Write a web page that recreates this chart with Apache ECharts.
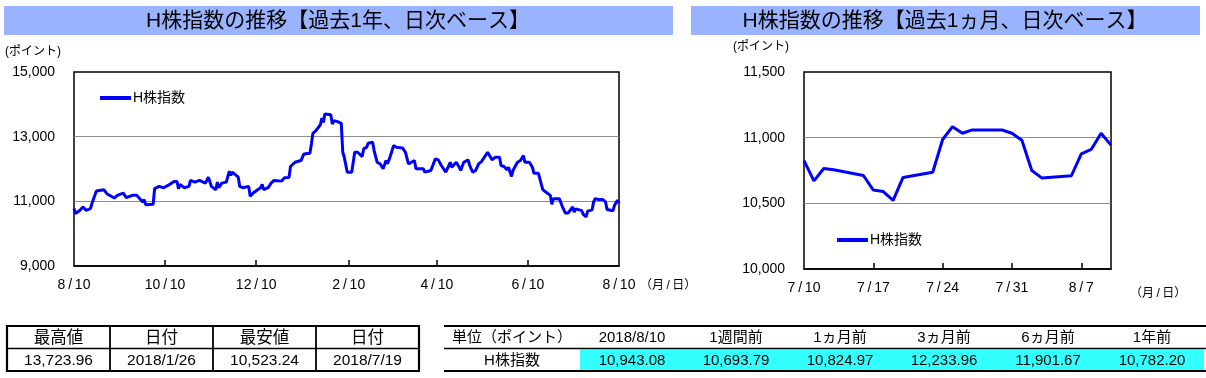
<!DOCTYPE html>
<html>
<head>
<meta charset="utf-8">
<script src="https://cdn.jsdelivr.net/npm/echarts@6/dist/echarts.min.js"></script>
<style>
html, body { margin: 0; padding: 0; background: #fff; }
#chart { width: 1206px; height: 378px; }
</style>
</head>
<body>
<div id="chart"></div>
<script>
// 過去1年（日次）: 7/7 まで。7/10 以降は過去1ヵ月のデータを使う
const yearDates = [
    '2017-08-10', '2017-08-11', '2017-08-14', '2017-08-16', '2017-08-18', '2017-08-21', '2017-08-22', '2017-08-23', '2017-08-25', '2017-08-30',
    '2017-09-01', '2017-09-06', '2017-09-08', '2017-09-12', '2017-09-14', '2017-09-18', '2017-09-19', '2017-09-21', '2017-09-25', '2017-09-26', '2017-09-27',
    '2017-10-02', '2017-10-03', '2017-10-06', '2017-10-09', '2017-10-12', '2017-10-16', '2017-10-18', '2017-10-19', '2017-10-20', '2017-10-23', '2017-10-26', '2017-10-27', '2017-10-30',
    '2017-11-02', '2017-11-06', '2017-11-08', '2017-11-10', '2017-11-13', '2017-11-14', '2017-11-15', '2017-11-17', '2017-11-20', '2017-11-22', '2017-11-23', '2017-11-24', '2017-11-28', '2017-11-29',
    '2017-12-01', '2017-12-05', '2017-12-06', '2017-12-08', '2017-12-11', '2017-12-13', '2017-12-14', '2017-12-15', '2017-12-18', '2017-12-20', '2017-12-22', '2017-12-27', '2017-12-29',
    '2018-01-01', '2018-01-02', '2018-01-05', '2018-01-09', '2018-01-11', '2018-01-12', '2018-01-15', '2018-01-16', '2018-01-17', '2018-01-19', '2018-01-22', '2018-01-23', '2018-01-24', '2018-01-25', '2018-01-26', '2018-01-29', '2018-01-30', '2018-01-31',
    '2018-02-02', '2018-02-05', '2018-02-06', '2018-02-07', '2018-02-09', '2018-02-12', '2018-02-14', '2018-02-16', '2018-02-19', '2018-02-20', '2018-02-22', '2018-02-23', '2018-02-26', '2018-02-27',
    '2018-03-01', '2018-03-03', '2018-03-05', '2018-03-07', '2018-03-08', '2018-03-10', '2018-03-12', '2018-03-14', '2018-03-18', '2018-03-20', '2018-03-22', '2018-03-24', '2018-03-26', '2018-03-27',
    '2018-04-01', '2018-04-02', '2018-04-03', '2018-04-06', '2018-04-07', '2018-04-09', '2018-04-11', '2018-04-13', '2018-04-16', '2018-04-19', '2018-04-20', '2018-04-21', '2018-04-23', '2018-04-25', '2018-04-26', '2018-04-28',
    '2018-05-01', '2018-05-02', '2018-05-04', '2018-05-06', '2018-05-08', '2018-05-10', '2018-05-14', '2018-05-17', '2018-05-19', '2018-05-22', '2018-05-23', '2018-05-25', '2018-05-27', '2018-05-28', '2018-05-30', '2018-05-31',
    '2018-06-03', '2018-06-05', '2018-06-07', '2018-06-08', '2018-06-11', '2018-06-13', '2018-06-14', '2018-06-17', '2018-06-19', '2018-06-20', '2018-06-22', '2018-06-25', '2018-06-26', '2018-06-27',
    '2018-07-01', '2018-07-03', '2018-07-05', '2018-07-07',
];
const yearValues = [
    10782, 10622, 10723, 10825, 10723, 10775, 10929, 11062, 11317, 11360,
    11237, 11102, 11185, 11256, 11114, 11185, 11154, 11185, 10979, 11052, 10898,
    10908, 11391, 11462, 11421, 11492, 11615, 11615, 11391, 11523, 11421, 11462, 11646, 11594,
    11646, 11564, 11748, 11462, 11360, 11594, 11421, 11564, 11594, 11933, 11800, 11902, 11748, 11462,
    11421, 11462, 11154, 11256, 11360, 11421, 11523, 11360, 11421, 11564, 11646, 11625, 11729,
    11735, 12077, 12209, 12262, 12467, 12480, 12487, 12775, 13102, 13185, 13369, 13575, 13440, 13700, 13723.96, 13677, 13390, 13492,
    13472, 13410, 12517, 12363, 11901.67, 11902, 12517, 12517, 12385, 12621, 12672, 12795, 12826, 12570,
    12209, 12160, 12006, 12262, 12160, 12416, 12723, 12672, 12652, 12517, 12160, 12209, 12262, 12006,
    12006, 11902, 11851, 11954, 11954, 12314, 12283, 12108, 11902, 12209, 12055, 12006, 12209, 12055, 11954, 12209,
    12283, 12108, 11902, 11954, 12160, 12233.96, 12517, 12283, 12363, 12363, 12108, 12077, 11975, 12055, 11769, 11954,
    12209, 12262, 12416, 12209, 12209, 12055, 11871, 11871, 11523, 11360, 11287, 11185, 10908, 11083,
    11083, 10846, 10640, 10640,
];

// 過去1ヵ月（日次）
const monthDates = [
    '2018-07-10', '2018-07-11', '2018-07-12', '2018-07-13', '2018-07-16', '2018-07-17', '2018-07-18', '2018-07-19', '2018-07-20',
    '2018-07-23', '2018-07-24', '2018-07-25', '2018-07-26', '2018-07-27', '2018-07-30', '2018-07-31', '2018-08-01', '2018-08-02',
    '2018-08-03', '2018-08-06', '2018-08-07', '2018-08-08', '2018-08-09', '2018-08-10',
];
const monthValues = [
    10824.97, 10671, 10765, 10755, 10712, 10601, 10590, 10523.24, 10697,
    10737, 10986, 11084, 11034, 11059, 11058, 11034, 10981, 10750,
    10693.79, 10710, 10877, 10910, 11034, 10943.08,
];

// 軸
const yearStart = '2017-08-10';
const yearEnd = '2018-08-10';
const yearLabelDates = ['2017-08-10', '2017-10-10', '2017-12-10', '2018-02-10', '2018-04-10', '2018-06-10', '2018-08-10'];
const yearAxis = { min: 9000, max: 15000, interval: 2000 };
const monthStart = '2018-07-10';
const monthEnd = '2018-08-10';
const monthLabelDates = ['2018-07-10', '2018-07-17', '2018-07-24', '2018-07-31', '2018-08-07'];
const monthAxis = { min: 10000, max: 11500, interval: 500 };

// 表
const highLowHeaders = ['最高値', '日付', '最安値', '日付'];
const highLowValues = ['13,723.96', '2018/1/26', '10,523.24', '2018/7/19'];
const compareHeaders = ['単位（ポイント）', '2018/8/10', '1週間前', '1ヵ月前', '3ヵ月前', '6ヵ月前', '1年前'];
const compareName = 'H株指数';
const compareValues = [10943.08, 10693.79, 10824.97, 12233.96, 11901.67, 10782.20];

const FONT = "'Liberation Sans', 'Noto Sans CJK JP', sans-serif";
const BLUE = '#0000ff';
const THIN = '\u2009';

const toUTC = (s) => {
    const [y, m, d] = s.split('-').map(Number);
    return Date.UTC(y, m - 1, d);
};
const dayIndex = (s, base) => Math.round((toUTC(s) - toUTC(base)) / 86400000);
const mdLabel = (s) => {
    const p = s.split('-');
    return Number(p[1]) + THIN + '/' + THIN + Number(p[2]);
};
const comma = (v) => v.toLocaleString('en-US');
const comma2 = (v) => v.toLocaleString('en-US', { minimumFractionDigits: 2, maximumFractionDigits: 2 });

// 日付 -> 基準日からの日数
const yearPoints = yearDates.concat(monthDates).map((d, i) => [dayIndex(d, yearStart), yearValues.concat(monthValues)[i]]);
const monthPoints = monthDates.map((d, i) => [dayIndex(d, monthStart), monthValues[i]]);

const makeXAxis = (gridIndex, start, end, labelDates) => {
    const labelMap = {};
    labelDates.forEach((d) => { labelMap[dayIndex(d, start)] = mdLabel(d); });
    const maxDay = dayIndex(end, start);
    const labelValues = labelDates.map((d) => dayIndex(d, start));
    return {
        gridIndex,
        type: 'value',
        min: 0,
        max: maxDay,
        axisLine: { show: true, lineStyle: { color: '#000', width: 1.5 } },
        axisTick: {
            show: true,
            inside: true,
            length: 6,
            customValues: labelValues.filter((v) => v > 0 && v < maxDay),
            lineStyle: { color: '#000', width: 1.5 },
        },
        axisLabel: {
            customValues: labelValues,
            formatter: (v) => labelMap[Math.round(v)] || '',
            margin: 12,
            color: '#000',
            fontSize: 14,
            fontFamily: FONT,
        },
        splitLine: { show: false },
    };
};

const makeYAxis = (gridIndex, ax) => ({
    gridIndex,
    type: 'value',
    min: ax.min,
    max: ax.max,
    interval: ax.interval,
    axisLine: { show: false },
    axisTick: { show: false },
    axisLabel: {
        formatter: (v) => comma(v),
        margin: 19,
        color: '#000',
        fontSize: 14,
        fontFamily: FONT,
    },
    splitLine: {
        show: true,
        showMinLine: false,
        showMaxLine: false,
        lineStyle: { color: '#8c8c8c', width: 1.2 },
    },
});

const text = (str, x, y, size, align) => ({
    type: 'text',
    x,
    y,
    style: {
        text: str,
        fill: '#000',
        fontSize: size,
        fontFamily: FONT,
        textAlign: align || 'center',
        textVerticalAlign: 'middle',
    },
});
const line = (x1, y1, x2, y2, w) => ({
    type: 'line',
    shape: { x1, y1, x2, y2 },
    style: { stroke: '#000', lineWidth: w },
});

const graphics = [];
// タイトル帯
graphics.push({ type: 'rect', shape: { x: 4, y: 6, width: 669, height: 29 }, style: { fill: '#99b3ff' } });
graphics.push({ type: 'rect', shape: { x: 691, y: 6, width: 509, height: 29 }, style: { fill: '#99b3ff' } });
graphics.push(text('H株指数の推移【過去1年、日次ベース】', 338, 21, 21));
graphics.push(text('H株指数の推移【過去1ヵ月、日次ベース】', 945, 21, 21));
graphics.push(text('(ポイント)', 5, 52, 12, 'left'));
graphics.push(text('(ポイント)', 733, 47, 12, 'left'));
graphics.push(text('（月' + THIN + '/' + THIN + '日）', 640, 286, 12, 'left'));
graphics.push(text('（月' + THIN + '/' + THIN + '日）', 1130, 294, 12, 'left'));

// 最高値・最安値の表
const hlX = [7, 110, 213, 316, 419];
const tTop = 326, tMid = 348.5, tBot = 371;
graphics.push({ type: 'rect', shape: { x: hlX[0], y: tTop, width: hlX[4] - hlX[0], height: tBot - tTop }, style: { fill: 'none', stroke: '#000', lineWidth: 2.2 } });
graphics.push(line(hlX[0], tMid, hlX[4], tMid, 1.5));
for (let i = 1; i < 4; i++) graphics.push(line(hlX[i], tTop, hlX[i], tBot, 1.8));
highLowHeaders.forEach((h, i) => {
    const cx = (hlX[i] + hlX[i + 1]) / 2;
    graphics.push(text(h, cx, (tTop + tMid) / 2 + 1, 16.5));
    graphics.push(text(highLowValues[i], cx, (tMid + tBot) / 2 + 1, 15.5));
});

// 比較表
const cmpX = [444, 580, 684, 788, 892, 996, 1100, 1204];
graphics.push({ type: 'rect', shape: { x: cmpX[1], y: tMid + 1, width: cmpX[7] - cmpX[1], height: tBot - tMid - 2 }, style: { fill: '#33ffff' } });
graphics.push(line(cmpX[0], tTop, 1206, tTop, 2.2));
graphics.push(line(cmpX[0], tMid, 1206, tMid, 1.5));
graphics.push(line(cmpX[0], tBot, 1206, tBot, 2.2));
compareHeaders.forEach((h, i) => {
    const cx = (cmpX[i] + cmpX[i + 1]) / 2;
    graphics.push(text(h, cx, (tTop + tMid) / 2 + 1, 15));
    const v = i === 0 ? compareName : comma2(compareValues[i - 1]);
    graphics.push(text(v, cx, (tMid + tBot) / 2 + 1, 15));
});

const lineSeries = (idx, data) => ({
    name: 'H株指数',
    type: 'line',
    xAxisIndex: idx,
    yAxisIndex: idx,
    data,
    showSymbol: false,
    smooth: false,
    lineStyle: { color: BLUE, width: 3 },
    itemStyle: { color: BLUE },
});

const legendStyle = (left, top) => ({
    data: [{ name: 'H株指数', icon: 'rect' }],
    left,
    top,
    itemWidth: 31,
    itemHeight: 4,
    itemGap: 0,
    padding: 0,
    textStyle: { color: '#000', fontSize: 14, fontFamily: FONT, padding: [0, 0, 0, -3] },
    selectedMode: false,
});

const chart = echarts.init(document.getElementById('chart'));
chart.setOption({
    animation: false,
    backgroundColor: '#fff',
    textStyle: { fontFamily: FONT },
    grid: [
        { left: 74, top: 72, width: 545, height: 194, show: true, borderColor: '#000', borderWidth: 1.5, backgroundColor: 'transparent' },
        { left: 804, top: 72, width: 307, height: 197, show: true, borderColor: '#000', borderWidth: 1.5, backgroundColor: 'transparent' },
    ],
    xAxis: [
        makeXAxis(0, yearStart, yearEnd, yearLabelDates),
        makeXAxis(1, monthStart, monthEnd, monthLabelDates),
    ],
    yAxis: [makeYAxis(0, yearAxis), makeYAxis(1, monthAxis)],
    legend: [legendStyle(100, 91), legendStyle(837, 233)],
    series: [lineSeries(0, yearPoints), lineSeries(1, monthPoints)],
    graphic: graphics,
});
</script>
</body>
</html>
